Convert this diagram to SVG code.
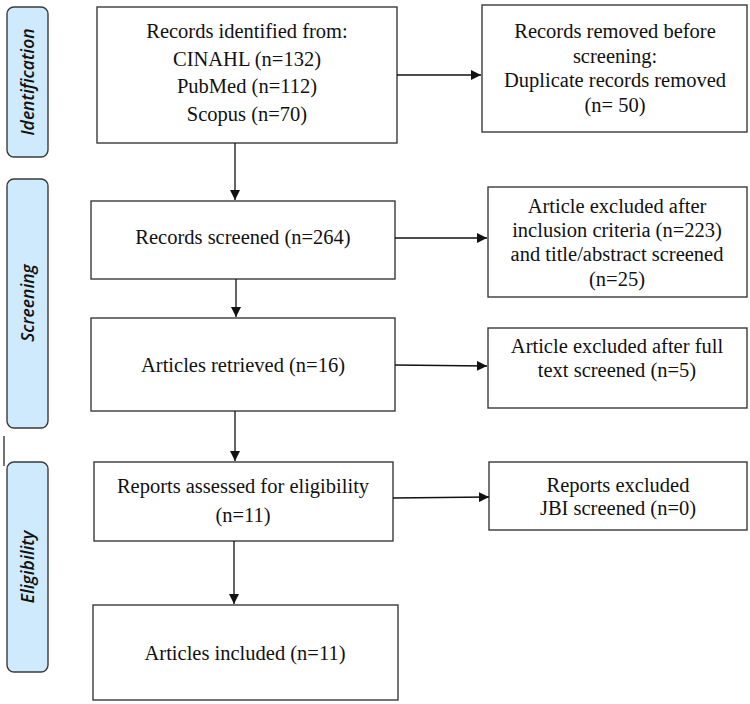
<svg xmlns="http://www.w3.org/2000/svg" width="750" height="704" viewBox="0 0 750 704">
<defs>
<marker id="ah" viewBox="0 0 10 10" refX="10" refY="5" markerWidth="10" markerHeight="10" markerUnits="userSpaceOnUse" orient="auto">
<path d="M0,0 L10,5 L0,10 z" fill="#111"/>
</marker>
<style>
.box{fill:#fff;stroke:#3a3a3a;stroke-width:1.4}
.side{fill:#cfeafc;stroke:#3a3a3a;stroke-width:1.4}
.t{font-size:20.5px;fill:#111;text-anchor:middle}
.s{font-size:17.5px;font-style:italic;font-weight:600;fill:#111;text-anchor:middle}
.c{stroke:#111;stroke-width:1.3;fill:none;marker-end:url(#ah)}
</style>
</defs>
<rect width="750" height="704" fill="#fff"/>
<g id="side-identification">
<rect class="side" x="7" y="7" width="41" height="150" rx="7"/>
<text class="s" font-family="'Open Sans', 'Noto Sans', sans-serif" transform="translate(34,82) rotate(-90)">Identification</text>
</g>
<g id="side-screening">
<rect class="side" x="7" y="179" width="41" height="249" rx="7"/>
<text class="s" font-family="'Open Sans', 'Noto Sans', sans-serif" transform="translate(34,303) rotate(-90)">Screening</text>
</g>
<g id="side-eligibility">
<rect class="side" x="7" y="462" width="41" height="210" rx="7"/>
<text class="s" font-family="'Open Sans', 'Noto Sans', sans-serif" transform="translate(34,567) rotate(-90)">Eligibility</text>
</g>
<line x1="4" y1="436" x2="4" y2="466" stroke="#3a3a3a" stroke-width="1.4"/>
<g font-family="'Liberation Serif', 'Times New Roman', serif">
<g id="identified">
<rect class="box" x="97" y="7" width="300" height="136"/>
<text class="t" x="247" y="38">Records identified from:</text>
<text class="t" x="247" y="66">CINAHL (n=132)</text>
<text class="t" x="247" y="93">PubMed (n=112)</text>
<text class="t" x="247" y="121">Scopus (n=70)</text>
</g>
<g id="removed">
<rect class="box" x="482" y="5" width="265" height="127"/>
<text class="t" x="615" y="38">Records removed before</text>
<text class="t" x="615" y="63">screening:</text>
<text class="t" x="615" y="87">Duplicate records removed</text>
<text class="t" x="615" y="112">(n= 50)</text>
</g>
<g id="screened">
<rect class="box" x="91" y="201" width="304" height="78"/>
<text class="t" x="243" y="244">Records screened (n=264)</text>
</g>
<g id="excluded1">
<rect class="box" x="488" y="187" width="259" height="110"/>
<text class="t" x="617" y="213">Article excluded after</text>
<text class="t" x="617" y="237">inclusion criteria (n=223)</text>
<text class="t" x="617" y="261">and title/abstract screened</text>
<text class="t" x="617" y="286">(n=25)</text>
</g>
<g id="retrieved">
<rect class="box" x="91" y="318" width="304" height="93"/>
<text class="t" x="243" y="372">Articles retrieved (n=16)</text>
</g>
<g id="excluded2">
<rect class="box" x="488" y="328" width="259" height="80"/>
<text class="t" x="617" y="353">Article excluded after full</text>
<text class="t" x="617" y="377">text screened (n=5)</text>
</g>
<g id="assessed">
<rect class="box" x="94" y="462" width="299" height="79"/>
<text class="t" x="243" y="493">Reports assessed for eligibility</text>
<text class="t" x="243" y="522">(n=11)</text>
</g>
<g id="excluded3">
<rect class="box" x="489" y="462" width="258" height="68"/>
<text class="t" x="618" y="492">Reports excluded</text>
<text class="t" x="618" y="515">JBI screened (n=0)</text>
</g>
<g id="included">
<rect class="box" x="93" y="605" width="305" height="95"/>
<text class="t" x="245" y="660">Articles included (n=11)</text>
</g>
</g>
<g id="connectors">
<path class="c" d="M397,75 L481,75"/>
<path class="c" d="M235,143 L235,200"/>
<path class="c" d="M395,238 L487,238"/>
<path class="c" d="M236,279 L236,317"/>
<path class="c" d="M395,365 L487,366"/>
<path class="c" d="M235,411 L235,461"/>
<path class="c" d="M393,498 L489,497"/>
<path class="c" d="M234,541 L234,604"/>
</g>
</svg>
